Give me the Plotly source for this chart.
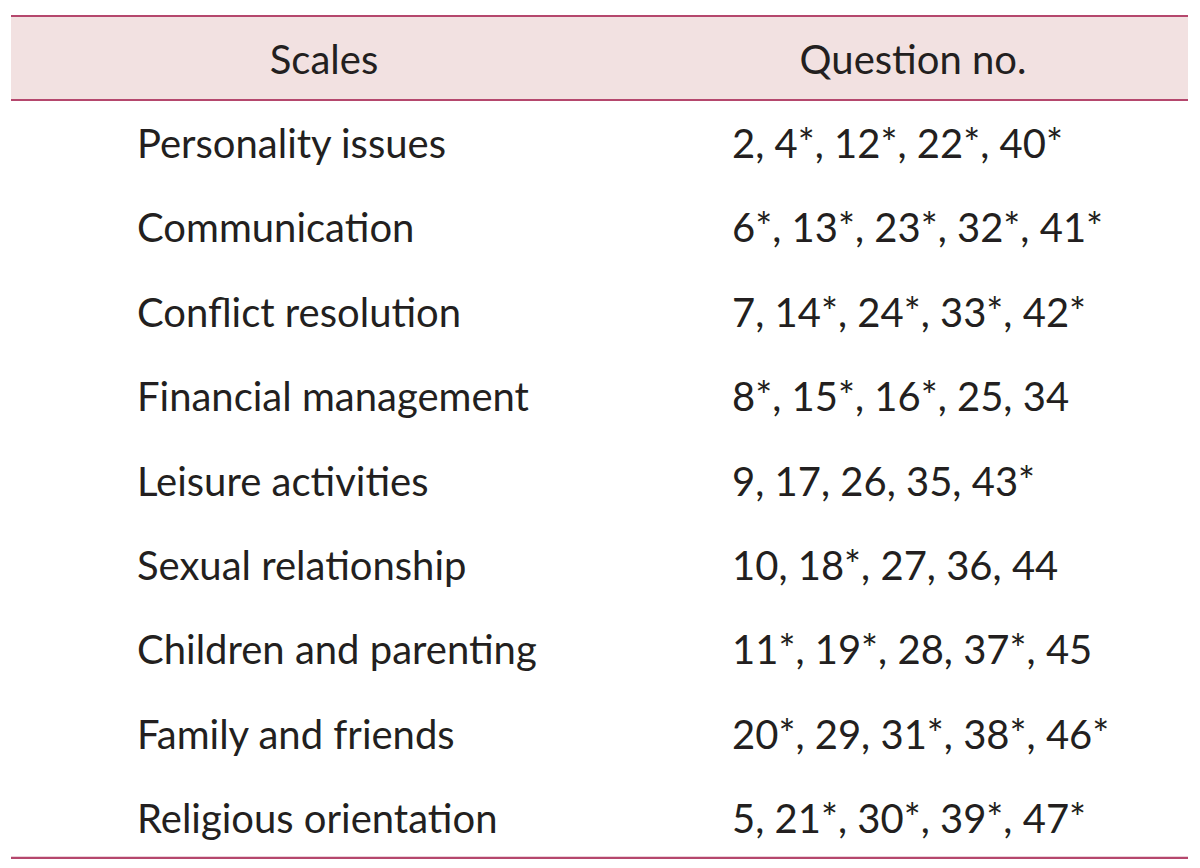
import plotly.graph_objects as go

header = ["Scales", "Question no."]
scales = [
    "Personality issues",
    "Communication",
    "Conflict resolution",
    "Financial management",
    "Leisure activities",
    "Sexual relationship",
    "Children and parenting",
    "Family and friends",
    "Religious orientation",
]
questions = [
    "2, 4*, 12*, 22*, 40*",
    "6*, 13*, 23*, 32*, 41*",
    "7, 14*, 24*, 33*, 42*",
    "8*, 15*, 16*, 25, 34",
    "9, 17, 26, 35, 43*",
    "10, 18*, 27, 36, 44",
    "11*, 19*, 28, 37*, 45",
    "20*, 29, 31*, 38*, 46*",
    "5, 21*, 30*, 39*, 47*",
]

rows = list(range(len(scales)))
FONT = "Lato"
FS = 40
TXT = "#231f20"
LINE = "#b5476d"
FILL = "#f2e1e1"

fig = go.Figure()

fig.add_trace(go.Scatter(
    x=[137] * len(scales), y=rows, text=scales, mode="text",
    textposition="middle right", textfont=dict(family=FONT, size=FS, color=TXT),
    hoverinfo="skip", showlegend=False,
))
fig.add_trace(go.Scatter(
    x=[732] * len(questions), y=rows, text=questions, mode="text",
    textposition="middle right", textfont=dict(family=FONT, size=FS, color=TXT),
    hoverinfo="skip", showlegend=False,
))
fig.add_trace(go.Scatter(
    x=[324, 913], y=[-1, -1], text=header, mode="text",
    textposition="middle center", textfont=dict(family=FONT, size=FS, color=TXT),
    hoverinfo="skip", showlegend=False,
))

n = len(scales)
y_top, y_head, y_bot = -1.564, -0.569, n - 0.588
fig.add_shape(type="rect", x0=11, x1=1188, y0=y_top, y1=y_head,
              fillcolor=FILL, line=dict(width=0), layer="below")
for yv in [y_top, y_head, y_bot]:
    fig.add_shape(type="line", x0=11, x1=1188, y0=yv, y1=yv,
                  line=dict(color=LINE, width=2.2))

fig.update_layout(
    width=1200, height=868,
    margin=dict(l=0, r=0, t=0, b=0, autoexpand=False),
    paper_bgcolor="white", plot_bgcolor="white",
    xaxis=dict(range=[8, 1208], visible=False, fixedrange=True),
    yaxis=dict(range=[8.6256, -1.6588], visible=False, fixedrange=True),
)

fig.write_html("out.html")
